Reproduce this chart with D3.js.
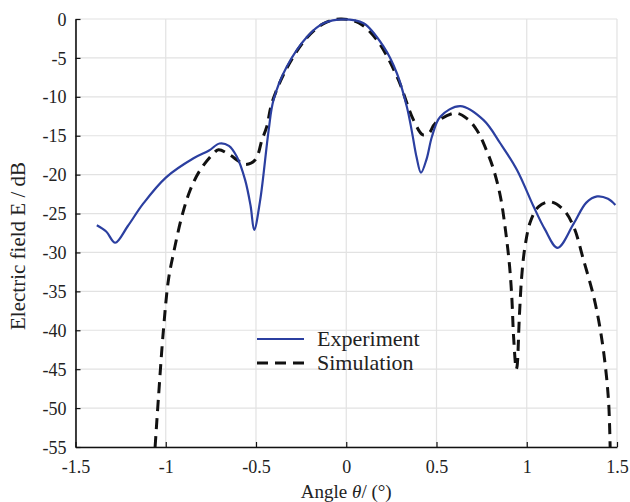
<!DOCTYPE html>
<html>
<head>
<meta charset="utf-8">
<script src="https://cdn.jsdelivr.net/npm/d3@7"></script>
<style>
  body { margin: 0; background: #fff; }
  text { font-family: "Liberation Serif", "Times New Roman", serif; fill: #222; }
</style>
</head>
<body>
<svg id="chart" width="630" height="502"></svg>
<script>
// x ticks / y ticks
const xTicks = [-1.5, -1, -0.5, 0, 0.5, 1, 1.5];
const yTicks = [0, -5, -10, -15, -20, -25, -30, -35, -40, -45, -50, -55];

// Experiment (measured)
const expAngle = [-1.382, -1.33, -1.28, -1.21, -1.124, -0.998, -0.846, -0.76, -0.702, -0.65, -0.606, -0.56, -0.53, -0.51, -0.477, -0.43, -0.403, -0.329, -0.218, -0.126, -0.015, 0.096, 0.207, 0.281, 0.336, 0.364, 0.39, 0.414, 0.445, 0.475, 0.521, 0.632, 0.761, 0.854, 0.946, 1.038, 1.1, 1.171, 1.26, 1.33, 1.39, 1.45, 1.491];
const expDb    = [-26.5, -27.3, -28.75, -26.6, -23.7, -20.35, -17.9, -16.9, -16.0, -16.3, -17.7, -20.7, -24.0, -27.1, -23.3, -14.3, -10.4, -6.1, -2.3, -0.55, -0.04, -0.55, -3.56, -7.0, -11.3, -14.5, -17.8, -19.75, -18.0, -15.1, -12.55, -11.2, -13.0, -16.0, -19.4, -24.1, -27.0, -29.4, -26.3, -23.6, -22.8, -23.1, -23.9];

// Simulation (measured)
const simAngle = [-1.059, -1.04, -1.013, -0.985, -0.957, -0.911, -0.865, -0.809, -0.736, -0.708, -0.643, -0.6, -0.56, -0.504, -0.467, -0.44, -0.412, -0.329, -0.218, -0.126, -0.033, 0.07, 0.17, 0.281, 0.373, 0.425, 0.46, 0.493, 0.604, 0.669, 0.724, 0.78, 0.817, 0.854, 0.882, 0.905, 0.918, 0.927, 0.942, 0.946, 0.959, 0.972, 0.99, 1.02, 1.066, 1.131, 1.205, 1.26, 1.315, 1.371, 1.408, 1.436, 1.454, 1.462];
const simDb    = [-55, -48.5, -40, -33.5, -30.1, -25.4, -22.0, -19.4, -17.3, -16.8, -17.5, -18.2, -18.7, -18.1, -15.55, -13.8, -10.8, -6.3, -2.4, -0.6, 0.0, -0.5, -2.7, -7.4, -13.0, -14.9, -14.6, -13.4, -12.1, -12.8, -14.3, -17.05, -19.4, -22.8, -27.1, -31.8, -36.1, -40.8, -45, -44.7, -38.3, -33.1, -29.3, -26.05, -24.1, -23.5, -24.55, -26.7, -31.0, -35.7, -40.0, -44.7, -49.4, -55];

const margin = { top: 19, right: 13, bottom: 55, left: 75.5 };
const W = 630, H = 502;
const innerW = W - margin.left - margin.right;
const innerH = H - margin.top - margin.bottom;

const svg = d3.select("#chart");
const g = svg.append("g").attr("transform", `translate(${margin.left},${margin.top})`);

const x = d3.scaleLinear().domain([-1.5, 1.5]).range([0, innerW]);
const y = d3.scaleLinear().domain([-55, 0]).range([innerH, 0]);

// grid
g.append("g").selectAll("line").data(xTicks).join("line")
  .attr("x1", d => x(d)).attr("x2", d => x(d))
  .attr("y1", 0).attr("y2", innerH)
  .attr("stroke", "#e2e2e2").attr("stroke-width", 1.2);
g.append("g").selectAll("line").data(yTicks).join("line")
  .attr("x1", 0).attr("x2", innerW)
  .attr("y1", d => y(d)).attr("y2", d => y(d))
  .attr("stroke", "#e2e2e2").attr("stroke-width", 1.2);

// axes, ticks inward, plain hyphen for negatives
const fmt = d => String(d);
const xAxis = g.append("g").attr("transform", `translate(0,${innerH})`)
  .call(d3.axisBottom(x).tickValues(xTicks).tickFormat(fmt).tickSizeInner(-5).tickSizeOuter(0).tickPadding(13));
const yAxis = g.append("g")
  .call(d3.axisLeft(y).tickValues(yTicks).tickFormat(fmt).tickSizeInner(-5).tickSizeOuter(0).tickPadding(9));

[xAxis, yAxis].forEach(a => {
  a.attr("font-family", null);
  a.select(".domain").attr("stroke", "#111").attr("stroke-width", 1.6);
  a.selectAll(".tick line").attr("stroke", "#111").attr("stroke-width", 1.2);
  a.selectAll(".tick text").attr("font-size", 18).attr("fill", "#222");
});
yAxis.selectAll(".tick text").attr("dy", "0.34em");

// lines
g.append("clipPath").attr("id", "clip").append("rect")
  .attr("x", 0).attr("y", -2).attr("width", innerW).attr("height", innerH + 2);

const line = d3.line().x(d => x(d[0])).y(d => y(d[1])).curve(d3.curveCatmullRom.alpha(0.5));

g.append("path")
  .datum(d3.zip(simAngle, simDb))
  .attr("clip-path", "url(#clip)")
  .attr("fill", "none").attr("stroke", "#111").attr("stroke-width", 3)
  .attr("stroke-dasharray", "11 7")
  .attr("d", line);

g.append("path")
  .datum(d3.zip(expAngle, expDb))
  .attr("fill", "none").attr("stroke", "#2b3fa0").attr("stroke-width", 2.2)
  .attr("d", line);

// legend
const legend = svg.append("g");
legend.append("line").attr("x1", 257).attr("x2", 304).attr("y1", 339).attr("y2", 339)
  .attr("stroke", "#2b3fa0").attr("stroke-width", 2.2);
legend.append("line").attr("x1", 257).attr("x2", 304).attr("y1", 363).attr("y2", 363)
  .attr("stroke", "#111").attr("stroke-width", 3).attr("stroke-dasharray", "11 7");
legend.append("text").attr("x", 317).attr("y", 346).attr("font-size", 22).text("Experiment");
legend.append("text").attr("x", 317).attr("y", 370).attr("font-size", 22).text("Simulation");

// axis titles
const xt = svg.append("text").attr("x", margin.left + innerW / 2).attr("y", 498)
  .attr("text-anchor", "middle").attr("font-size", 19);
xt.append("tspan").text("Angle ");
xt.append("tspan").attr("font-style", "italic").text("θ");
xt.append("tspan").text("/ (°)");

svg.append("text")
  .attr("transform", "translate(25,246) rotate(-90)")
  .attr("text-anchor", "middle").attr("font-size", 21)
  .text("Electric field E / dB");
</script>
</body>
</html>
